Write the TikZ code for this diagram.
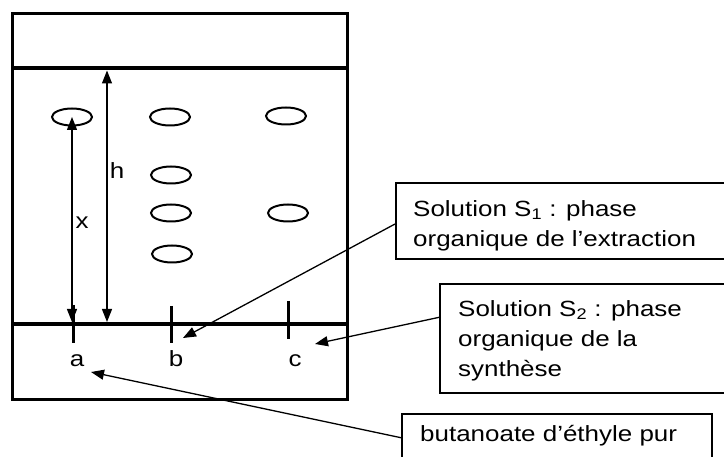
\documentclass[tikz,border=0pt]{standalone}
\usepackage{fontspec}
\setmainfont[FakeStretch=1.18]{Liberation Sans}
\usetikzlibrary{arrows.meta,shapes.geometric,calc}
\begin{document}
\begin{tikzpicture}[x=1pt,y=-1pt,
 spot/.style={draw,ellipse,line width=2pt,minimum width=40pt,minimum height=17pt,inner sep=0pt},
 tickmark/.style={line width=3pt},
 dim/.style={line width=1.3pt,{Triangle[length=13pt,width=10pt]}-{Triangle[length=13pt,width=10pt]}},
 ptr/.style={line width=1.3pt,-{Triangle[length=13pt,width=10pt]}},
 box/.style={draw,line width=1.8pt,anchor=north west,inner sep=0pt},
 txt/.style={font=\fontsize{22}{30}\selectfont,inner sep=0pt,align=left,anchor=north west},
 lab/.style={font=\fontsize{22}{25}\selectfont,inner sep=0pt,anchor=base}]
\useasboundingbox (0,0) rectangle (724,457);
% plate
\node[draw,line width=3pt,minimum width=335pt,minimum height=386pt,anchor=north west,inner sep=0pt] (plate) at (11,12) {};
\coordinate (fl) at (11,68); \coordinate (fr) at (346,68);
\draw[line width=4pt] (fl) -- (fr);
\coordinate (dl) at (11,324); \coordinate (dr) at (346,324);
\draw[line width=3.2pt] (dl) -- (dr);
% ticks
\coordinate (ta1) at (73,305); \coordinate (ta2) at (73,343);
\coordinate (tb1) at (171,306); \coordinate (tb2) at (171,343);
\coordinate (tc1) at (288,301); \coordinate (tc2) at (288,339);
\draw[tickmark] (ta1) -- (ta2);
\draw[tickmark] (tb1) -- (tb2);
\draw[tickmark] (tc1) -- (tc2);
% spots
\node[spot] (a1) at (72,117) {};
\node[spot] (b1) at (170,117) {};
\node[spot] (c1) at (286,116) {};
\node[spot] (b2) at (171,175) {};
\node[spot] (b3) at (171,213) {};
\node[spot] (c2) at (288,213) {};
\node[spot] (b4) at (172,254) {};
% dimensions
\coordinate (xa) at (72,322);
\draw[dim] (xa) -- (a1.center);
\coordinate (htop) at (107,70.5); \coordinate (hbot) at (107,322);
\draw[dim] (hbot) -- (htop);
\node[lab] (lh) at (117,179) {h};
\node[lab] (lx) at (82,229) {x};
\node[lab] (la) at (77,367) {a};
\node[lab] (lb) at (176,367) {b};
\node[lab] (lc) at (295,367) {c};
% boxes
\node[box,minimum width=340pt,minimum height=76pt] (s1box) at (395,182) {};
\node[txt] (s1) at (413,200) {Solution S\textsubscript{1} : phase\\organique de l’extraction};
\node[box,minimum width=300pt,minimum height=109pt] (s2box) at (439,283) {};
\node[txt] (s2) at (458,300) {Solution S\textsubscript{2} : phase\\organique de la\\synthèse};
\node[box,minimum width=310pt,minimum height=60pt] (s3box) at (401,413) {};
\node[txt] (s3) at (420,425) {butanoate d’éthyle pur};
% pointers
\coordinate (pb) at (183,338);
\coordinate (pc) at (315,344);
\coordinate (pa) at (91,372);
\draw[ptr] ($(s1box.north west)!0.54!(s1box.south west)$) -- (pb);
\draw[ptr] ($(s2box.north west)!0.31!(s2box.south west)$) -- (pc);
\draw[ptr] ($(s3box.north west)!0.4!(s3box.south west)$) -- (pa);
\end{tikzpicture}
\end{document}
